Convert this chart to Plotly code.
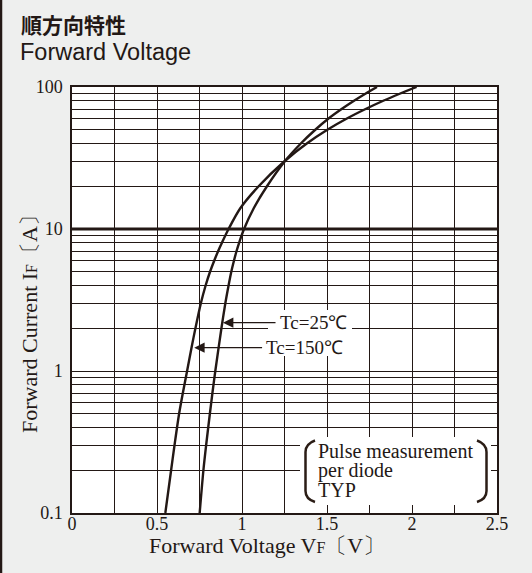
import numpy as np
import plotly.graph_objects as go

# ---------------- data ----------------
current_150 = [0.1, 0.2, 0.3, 0.5, 0.7, 1, 1.5, 2, 3, 4, 5, 6, 7, 8, 10, 14, 20, 30, 40, 50, 60, 70, 80, 90, 100]
vf_150 = [0.549, 0.583, 0.603, 0.630, 0.652, 0.677, 0.705, 0.726, 0.758, 0.786, 0.812, 0.837, 0.860, 0.882,
          0.921, 0.99, 1.098, 1.25, 1.381, 1.502, 1.617, 1.727, 1.831, 1.931, 2.027]

current_25 = [0.1, 0.2, 0.3, 0.5, 0.7, 1, 2, 3, 4, 5, 6, 7, 8, 10, 14, 20, 30, 40, 50, 60, 70, 80, 90, 100]
vf_25 = [0.751, 0.773, 0.789, 0.811, 0.826, 0.843, 0.879, 0.902, 0.921, 0.937, 0.953, 0.968, 0.983,
         1.012, 1.069, 1.147, 1.252, 1.346, 1.431, 1.509, 1.586, 1.659, 1.728, 1.794]

x_tickvals = [0, 0.25, 0.5, 0.75, 1, 1.25, 1.5, 1.75, 2, 2.25, 2.5]
x_ticktext = ["0", "", "0.5", "", "1", "", "1.5", "", "2", "", "2.5"]

y_tickvals = [m * d for d in (0.1, 1, 10) for m in range(1, 10)] + [100]
y_ticktext = [("0.1" if v == 0.1 else "1" if v == 1 else "10" if v == 10 else "100" if v == 100 else "")
              for v in y_tickvals]

labels = ["Tc=25℃", "Tc=150℃"]
label_tip_v = [0.888, 0.719]
label_tail_v = [1.206, 1.127]
label_current = [2.19, 1.46]

note_lines = ["Pulse measurement", "per diode", "TYP"]

# ---------------- style ----------------
INK = "#231815"
SERIF = "Liberation Serif"
W, H = 532, 573
ML, MR, MT, MB = 72, 35, 87, 60
PW, PH = W - ML - MR, H - MT - MB


def px(x):
    return (x - ML) / PW


def py(y):
    return (H - MB - y) / PH


fig = go.Figure()

for cur, vf in ((current_150, vf_150), (current_25, vf_25)):
    fig.add_trace(go.Scatter(x=vf, y=cur, mode="lines",
                             line=dict(color=INK, width=2.4, shape="spline", smoothing=0.8),
                             hoverinfo="skip"))

# thick 10 A line
fig.add_trace(go.Scatter(x=[x_tickvals[0], x_tickvals[-1]], y=[10, 10], mode="lines",
                         line=dict(color=INK, width=3), hoverinfo="skip"))

shapes = []
# left dark border of the figure
shapes.append(dict(type="line", xref="paper", yref="paper", x0=px(1), x1=px(1), y0=py(0), y1=py(H),
                   line=dict(color=INK, width=2.5)))
# white background behind Tc labels
shapes.append(dict(type="rect", xref="paper", yref="paper", x0=px(268), x1=px(352), y0=py(356), y1=py(310),
                   fillcolor="white", line=dict(width=0), layer="above"))
# white note box
shapes.append(dict(type="rect", xref="paper", yref="paper", x0=px(300), x1=px(491), y0=py(505), y1=py(437),
                   fillcolor="white", line=dict(width=0), layer="above"))


def bracket(points):
    (a, b), (c, d), (e, f), (g, h), (i, j), (k, l) = [(px(x), py(y)) for x, y in points]
    return f"M {a},{b} Q {c},{d} {e},{f} L {g},{h} Q {i},{j} {k},{l}"


shapes.append(dict(type="path", xref="paper", yref="paper", layer="above",
                   path=bracket([(315, 440.5), (305.5, 444), (305.5, 452), (305.5, 491), (305.5, 499), (315, 502)]),
                   line=dict(color="#2b1d16", width=2.5)))
shapes.append(dict(type="path", xref="paper", yref="paper", layer="above",
                   path=bracket([(477, 440.5), (486.5, 444), (486.5, 452), (486.5, 491), (486.5, 499), (477, 502)]),
                   line=dict(color="#2b1d16", width=2.5)))

annotations = []
# titles
annotations.append(dict(text="順方向特性", xref="paper", yref="paper", x=px(19), y=py(24),
                        xanchor="left", yanchor="middle", showarrow=False,
                        font=dict(family="Noto Sans CJK JP", size=21, color=INK, weight="bold")))
annotations.append(dict(text="Forward Voltage", xref="paper", yref="paper", x=px(18), y=py(52),
                        xanchor="left", yanchor="middle", showarrow=False,
                        font=dict(family="Liberation Sans", size=23.5, color=INK)))
# axis titles
annotations.append(dict(text="Forward Voltage V<span style='font-size:16px'>F</span>〔V〕",
                        xref="paper", yref="paper", x=px(267), y=py(545),
                        xanchor="center", yanchor="middle", showarrow=False,
                        font=dict(family=SERIF, size=22, color=INK)))
annotations.append(dict(text="Forward Current I<span style='font-size:16px'>F</span>〔A〕",
                        xref="paper", yref="paper", x=px(29), y=py(319), textangle=-90,
                        xanchor="center", yanchor="middle", showarrow=False,
                        font=dict(family=SERIF, size=22, color=INK)))
# Tc labels with arrows
for txt, tip, tail, cur in zip(labels, label_tip_v, label_tail_v, label_current):
    annotations.append(dict(text="", x=tip, y=np.log10(cur), ax=tail, ay=np.log10(cur),
                            xref="x", yref="y", axref="x", ayref="y", showarrow=True,
                            arrowhead=2, arrowsize=1.6, arrowwidth=1.3, arrowcolor=INK, standoff=0))
    annotations.append(dict(text=txt, x=tail + 0.005, y=np.log10(cur), xref="x", yref="y",
                            xanchor="left", yanchor="middle", showarrow=False,
                            font=dict(family=SERIF, size=19, color=INK)))
# note
for line, yc in zip(note_lines, (451, 470, 489.5)):
    annotations.append(dict(text=line, xref="paper", yref="paper", x=px(316), y=py(yc),
                            xanchor="left", yanchor="middle", showarrow=False,
                            font=dict(family=SERIF, size=20, color=INK)))

fig.update_layout(
    width=W, height=H, margin=dict(l=ML, r=MR, t=MT, b=MB),
    paper_bgcolor="#eeefee", plot_bgcolor="white", showlegend=False,
    shapes=shapes, annotations=annotations,
    xaxis=dict(range=[0, 2.5], tickvals=x_tickvals, ticktext=x_ticktext, showgrid=True,
               gridcolor=INK, gridwidth=1.3, showline=True, mirror=True, linecolor=INK, linewidth=1.5,
               ticks="", zeroline=False, ticklabelstandoff=-6,
               tickfont=dict(family=SERIF, size=18, color=INK)),
    yaxis=dict(type="log", range=[-1, 2], tickvals=y_tickvals, ticktext=y_ticktext, showgrid=True,
               gridcolor=INK, gridwidth=1.3, showline=True, mirror=True, linecolor=INK, linewidth=1.5,
               ticks="", zeroline=False, ticklabelstandoff=4,
               tickfont=dict(family=SERIF, size=18, color=INK)),
)

fig.write_html("out.html")
